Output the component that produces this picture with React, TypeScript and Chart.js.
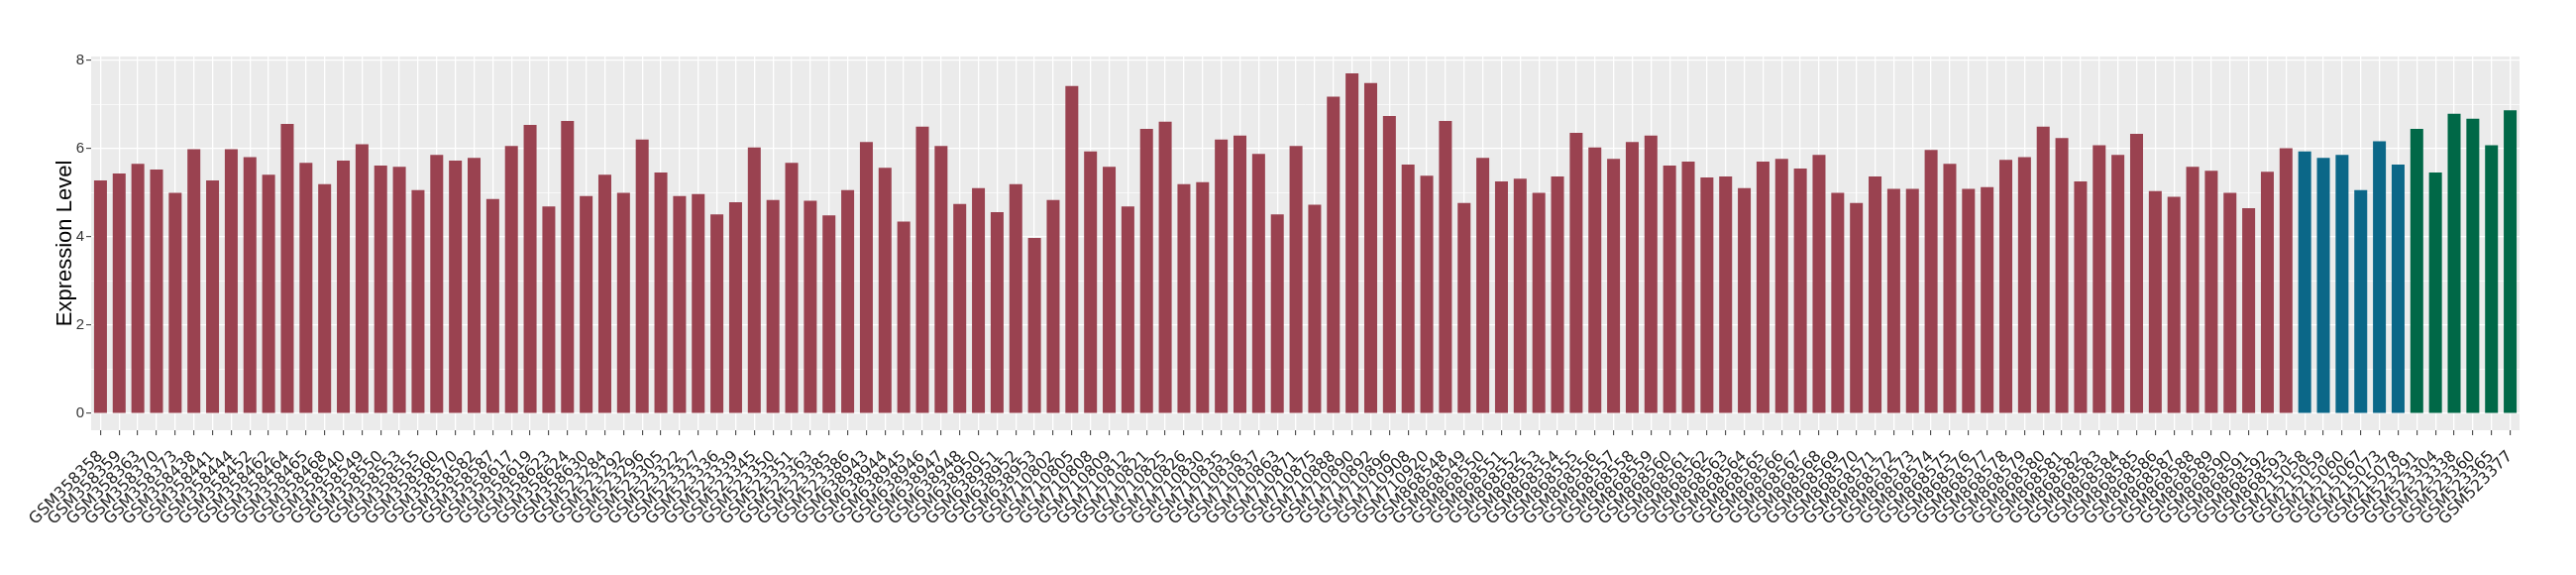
import React, { useEffect, useRef } from 'react';
import { Chart, registerables } from 'chart.js';

Chart.register(...registerables);

const sampleLabels: string[] = [
  'GSM358358', 'GSM358359', 'GSM358363', 'GSM358370', 'GSM358373', 'GSM358438', 'GSM358441', 'GSM358444', 'GSM358452', 'GSM358462',
  'GSM358464', 'GSM358465', 'GSM358468', 'GSM358540', 'GSM358549', 'GSM358550', 'GSM358553', 'GSM358555', 'GSM358560', 'GSM358570',
  'GSM358582', 'GSM358587', 'GSM358617', 'GSM358619', 'GSM358623', 'GSM358624', 'GSM358630',
  'GSM523284', 'GSM523292', 'GSM523296', 'GSM523305', 'GSM523322', 'GSM523327', 'GSM523336', 'GSM523339', 'GSM523345', 'GSM523350',
  'GSM523351', 'GSM523363', 'GSM523385', 'GSM523386',
  'GSM638943', 'GSM638944', 'GSM638945', 'GSM638946', 'GSM638947', 'GSM638948', 'GSM638950', 'GSM638951', 'GSM638952', 'GSM638953',
  'GSM710802', 'GSM710805', 'GSM710808', 'GSM710809', 'GSM710812', 'GSM710821', 'GSM710825', 'GSM710826', 'GSM710830', 'GSM710835',
  'GSM710836', 'GSM710837', 'GSM710863', 'GSM710871', 'GSM710875', 'GSM710888', 'GSM710890', 'GSM710892', 'GSM710896', 'GSM710908',
  'GSM710920',
  'GSM868548', 'GSM868549', 'GSM868550', 'GSM868551', 'GSM868552', 'GSM868553', 'GSM868554', 'GSM868555', 'GSM868556', 'GSM868557',
  'GSM868558', 'GSM868559', 'GSM868560', 'GSM868561', 'GSM868562', 'GSM868563', 'GSM868564', 'GSM868565', 'GSM868566', 'GSM868567',
  'GSM868568', 'GSM868569', 'GSM868570', 'GSM868571', 'GSM868572', 'GSM868573', 'GSM868574', 'GSM868575', 'GSM868576', 'GSM868577',
  'GSM868578', 'GSM868579', 'GSM868580', 'GSM868581', 'GSM868582', 'GSM868583', 'GSM868584', 'GSM868585', 'GSM868586', 'GSM868587',
  'GSM868588', 'GSM868589', 'GSM868590', 'GSM868591', 'GSM868592', 'GSM868593',
  'GSM215058', 'GSM215059', 'GSM215060', 'GSM215067', 'GSM215073', 'GSM215078',
  'GSM523291', 'GSM523304', 'GSM523338', 'GSM523360', 'GSM523365', 'GSM523377',
];

const expressionValues: number[] = [
  5.28, 5.44, 5.66, 5.53, 5.0, 5.99, 5.28, 5.99, 5.81, 5.41,
  6.56, 5.68, 5.2, 5.73, 6.1, 5.62, 5.59, 5.06, 5.86, 5.73,
  5.79, 4.86, 6.06, 6.54, 4.69, 6.63, 4.93,
  5.41, 5.0, 6.21, 5.46, 4.93, 4.97, 4.51, 4.79, 6.03, 4.84,
  5.68, 4.82, 4.49, 5.06,
  6.15, 5.57, 4.35, 6.5, 6.06, 4.75, 5.11, 4.56, 5.2, 3.98,
  4.84, 7.42, 5.94, 5.59, 4.69, 6.45, 6.61, 5.2, 5.24, 6.21,
  6.3, 5.88, 4.51, 6.06, 4.73, 7.18, 7.71, 7.49, 6.74, 5.64,
  5.39,
  6.63, 4.77, 5.79, 5.26, 5.32, 5.0, 5.37, 6.36, 6.03, 5.77,
  6.15, 6.3, 5.62, 5.71, 5.35, 5.37, 5.11, 5.71, 5.77, 5.55,
  5.86, 5.0, 4.77, 5.37, 5.09, 5.09, 5.97, 5.66, 5.09, 5.13,
  5.75, 5.81, 6.5, 6.24, 5.26, 6.08, 5.86, 6.34, 5.04, 4.91,
  5.59, 5.5, 5.0, 4.65, 5.48, 6.01,
  5.94, 5.79, 5.86, 5.06, 6.17, 5.64,
  6.45, 5.46, 6.79, 6.68, 6.08, 6.87,
];

// number of consecutive samples in each colour group (left to right)
const groupSizes: number[] = [118, 6, 6];
const groupColors: string[] = ['#9A4250', '#0B6788', '#006847'];

const yTickValues: number[] = [0, 2, 4, 6, 8];
const yAxisTitle = 'Expression Level';

const panelBackground = {
  id: 'panelBackground',
  beforeDraw(chart: any) {
    const { ctx, chartArea } = chart;
    if (!chartArea) return;
    ctx.save();
    ctx.fillStyle = '#EBEBEB';
    ctx.fillRect(chartArea.left, chartArea.top, chartArea.right - chartArea.left, chartArea.bottom - chartArea.top);
    ctx.restore();
  },
};

export default function App() {
  const canvasRef = useRef<HTMLCanvasElement | null>(null);

  useEffect(() => {
    document.body.style.margin = '0';
    const canvas = canvasRef.current;
    if (!canvas) return;

    const barColors: string[] = [];
    groupSizes.forEach((n, g) => {
      for (let i = 0; i < n; i++) barColors.push(groupColors[g]);
    });

    const isMajor = (v: number) => yTickValues.includes(v);

    const chart = new Chart(canvas, {
      type: 'bar',
      data: {
        labels: sampleLabels,
        datasets: [
          {
            data: expressionValues,
            backgroundColor: barColors,
            borderWidth: 0,
            barPercentage: 0.69,
            categoryPercentage: 1,
          },
        ],
      },
      plugins: [panelBackground],
      options: {
        responsive: false,
        animation: false,
        devicePixelRatio: 1,
        layout: { padding: { left: 0, right: 57, top: 57, bottom: 0 } },
        plugins: {
          legend: { display: false },
          tooltip: { enabled: false },
        },
        scales: {
          x: {
            type: 'category',
            offset: true,
            border: { display: false },
            grid: {
              offset: false,
              color: '#FFFFFF',
              lineWidth: 1.3,
              drawTicks: true,
              tickLength: 5,
              tickColor: '#333333',
              tickWidth: 1,
            },
            ticks: {
              autoSkip: false,
              minRotation: 45,
              maxRotation: 45,
              padding: 12,
              color: '#262626',
              font: { family: 'DejaVu Sans', size: 16 },
            },
            afterFit: (scale: any) => {
              scale.height = 146;
            },
          },
          y: {
            type: 'linear',
            min: -0.38,
            max: 8.09,
            border: { display: false },
            grid: {
              color: '#FFFFFF',
              lineWidth: (ctx: any) => (isMajor(ctx.tick?.value) ? 1.3 : 0.65),
              drawTicks: true,
              tickLength: 5,
              tickWidth: 1,
              tickColor: (ctx: any) => (isMajor(ctx.tick?.value) ? '#333333' : 'rgba(0,0,0,0)'),
            },
            ticks: {
              stepSize: 1,
              includeBounds: false,
              padding: 2,
              color: '#333333',
              font: { family: 'Liberation Sans', size: 15 },
              callback: (v: any) => (isMajor(Number(v)) ? String(v) : ''),
            },
            title: {
              display: true,
              text: yAxisTitle,
              color: '#000000',
              font: { family: 'Liberation Sans', size: 22, weight: 'normal' },
              padding: { top: 53, bottom: 0 },
            },
            afterFit: (scale: any) => {
              scale.width = 92;
            },
          },
        },
      },
    } as any);

    return () => {
      chart.destroy();
    };
  }, []);

  return (
    <canvas
      ref={canvasRef}
      width={2600}
      height={580}
      style={{ display: 'block', width: '2600px', height: '580px' }}
    />
  );
}
